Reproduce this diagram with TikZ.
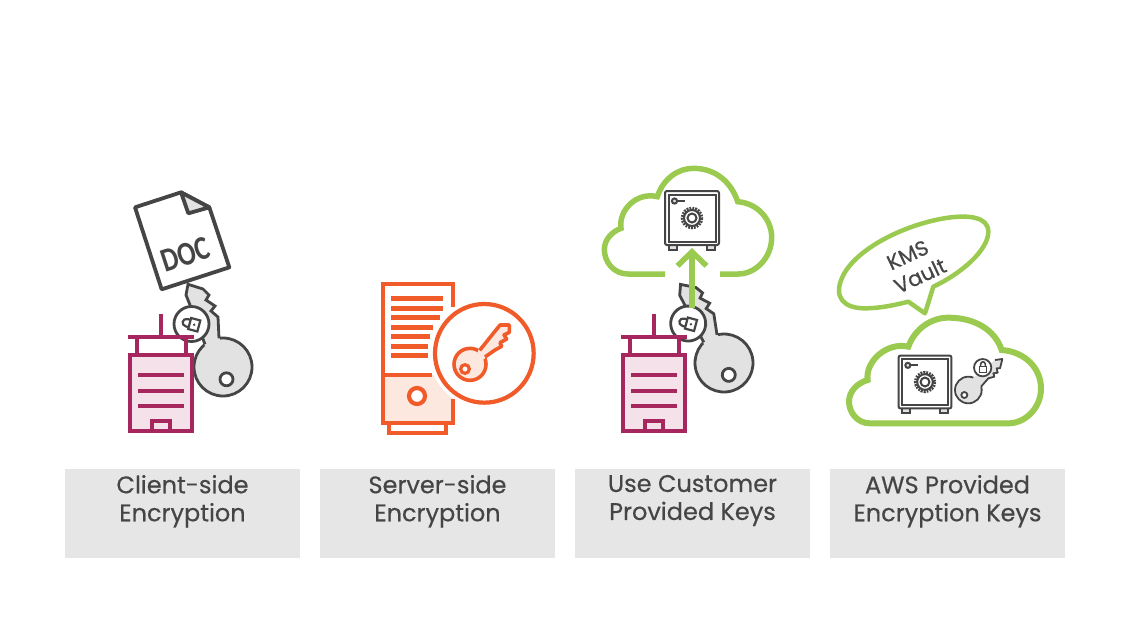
\documentclass[tikz,border=0pt]{standalone}
\usepackage{fontspec}
\setmainfont{Poppins}[FakeBold=0.4]
\newfontfamily\docfont{Carlito}
\usetikzlibrary{arrows.meta}

\definecolor{plum}{HTML}{A6265E}
\definecolor{plumfill}{HTML}{F5E1E9}
\definecolor{rust}{HTML}{F15B2A}
\definecolor{rustfill}{HTML}{FDE8DF}
\definecolor{leaf}{HTML}{9BCA50}
\definecolor{slate}{HTML}{454545}
\definecolor{keygray}{HTML}{E2E2E2}
\definecolor{boxgray}{HTML}{E6E6E6}

\tikzset{
    labelbox/.style={fill=boxgray, minimum width=235pt, minimum height=89pt, inner sep=0pt},
    labeltext/.style={anchor=north, align=center, inner sep=0pt, text=slate, font=\fontsize{24}{28}\selectfont},
    vaulttext/.style={text=slate, inner sep=0pt, font=\fontsize{21}{22}\selectfont},
    plumline/.style={draw=plum, line width=4.6pt},
    rustline/.style={draw=rust, line width=4.2pt},
    rustbar/.style={draw=rust, line width=4.6pt},
    leafline/.style={draw=leaf, line width=5.5pt},
    slateline/.style={draw=slate, line width=2.8pt},
    safeline/.style={draw=slate, line width=2pt},
    pics/tower/.style={code={
        \draw [plumline, fill=plumfill] (-31,-38) rectangle (31,38);
        \draw [plumline] (-33,-56) -- (33,-56);
        \draw [plumline] (0,-79) -- (0,-56);
        \draw [plumline] (-24,-56) -- (-24,-38);
        \draw [plumline] (25,-56) -- (25,-38);
        \draw [plumline] (-23,-18) -- (23,-18);
        \draw [plumline] (-23,-2) -- (23,-2);
        \draw [plumline] (-23,13) -- (23,13);
        \draw [plumline] (-9,38) -- (-9,28) -- (9,28) -- (9,38);
    }},
    pics/padlock/.style={code={
        \draw [slateline, line width=2.2pt, fill=white] (-6,-2) rectangle (6,8);
        \draw [slateline, line width=2.2pt] (-4,-2) -- (-4,-5) .. controls (-4,-11) and (4,-11) .. (4,-5) -- (4,-2);
        \fill [slate] (0,3) circle [radius=1.4];
    }},
    pics/bigkey/.style={code={
        \draw [slateline, fill=keygray] (0,0) circle [radius=29];
        \fill [keygray] (-35,-82.7) -- (-20,-78) -- (-14,-72) -- (-17,-67) -- (-8,-61) -- (-12,-56) -- (-5,-50)
            -- (-3,-27) -- (0,-10) -- (-18,-21) -- (-33,-62) -- (-37,-72) -- cycle;
        \draw [slateline] (-18,-22.7) -- (-33,-62) -- (-37,-72) -- (-35,-82.7) -- (-20,-78) -- (-14,-72)
            -- (-17,-67) -- (-8,-61) -- (-12,-56) -- (-5,-50) -- (-4,-28.7);
        \draw [slateline, fill=white] (3.5,12.3) circle [radius=6.5];
        \draw [slateline, fill=white] (-31.5,-43) circle [radius=17.5];
        \pic [rotate=75, scale=0.95] at (-31.5,-43) {padlock};
    }},
    pics/safebox/.style={code={
        \draw [safeline, fill=keygray] (-23,27) rectangle (-15,32);
        \draw [safeline, fill=keygray] (15,27) rectangle (23,32);
        \draw [safeline, fill=white, rounded corners=2pt] (-27,-27) rectangle (27,27);
        \draw [safeline, fill=white] (-23.5,-23.5) rectangle (23.5,23.5);
        \draw [safeline, line width=3.6pt, dash pattern=on 1.8pt off 1pt] (0,0) circle [radius=9.5];
        \draw [safeline, fill=white] (0,0) circle [radius=8];
        \draw [safeline, fill=white] (0,0) circle [radius=4.5];
        \draw [safeline, fill=keygray] (-17.5,-17) circle [radius=2.6];
        \draw [safeline] (-15,-17) -- (-7,-17);
    }},
}

\begin{document}
\begin{tikzpicture}[x=1pt, y=-1pt]
    \useasboundingbox (0,0) rectangle (1135,638);

    % client-side
    \begin{scope}[shift={(110,180)}, scale=1/3]
        \draw [slate, line width=3.8pt, line join=round, fill=white] (75,82) -- (213,37) -- (298,82) -- (358,262) -- (155,328) -- cycle;
        \draw [slate, line width=3.8pt, line join=round, fill=keygray] (213,37) -- (235,100) -- (298,82) -- cycle;
        \node [rotate=18, xscale=0.9, yscale=1.12, text=slate, inner sep=0pt, font=\docfont\bfseries\fontsize{30}{30}\selectfont] (doctext) at (226,224) {DOC};
    \end{scope}
    \pic at (223,367) {bigkey};
    \pic at (161,393) {tower};

    % server-side
    \begin{scope}[shift={(370,275)}, scale=1/3]
        \fill [rustfill] (38,300) rectangle (248,445);
        \fill [white] (343,235) circle [radius=165];
        \draw [rustline] (248,95) -- (248,28) -- (38,28) -- (38,445) -- (248,445) -- (248,372);
        \draw [rustline] (38,300) -- (185,300);
        \draw [rustline] (57,445) -- (57,473) -- (228,473) -- (228,445);
        \draw [rustbar] (63,71) -- (218,71);
        \draw [rustbar] (63,100) -- (218,100);
        \draw [rustbar] (63,128) -- (210,128);
        \draw [rustbar] (63,157) -- (190,157);
        \draw [rustbar] (63,185) -- (180,185);
        \draw [rustbar] (63,214) -- (175,214);
        \draw [rustbar] (63,242) -- (175,242);
        \draw [rustline, fill=white] (141,363) circle [radius=24];
        \draw [rustline] (343,235) circle [radius=148];
        \draw [rustline, line width=3.6pt, fill=rustfill] (300,268) circle [radius=48];
        \fill [rustfill] (325,225) -- (390,150) -- (418,150) -- (418,170) -- (405,180) -- (410,190) -- (392,205) -- (395,212) -- (375,225) -- (350,245) -- (310,280) -- cycle;
        \draw [rustline, line width=3.6pt, line join=round] (329,226) -- (390,150) -- (418,150) -- (418,172) -- (402,180) -- (410,192) -- (390,203) -- (395,214) -- (375,225) -- (345,246);
        \draw [rustline, line width=3.2pt, fill=white] (285,282) circle [radius=13];
    \end{scope}

    % customer keys
    \begin{scope}[shift={(595,160)}, scale=1/3]
        \draw [leafline] (210,342) -- (100,342) .. controls (55,342) and (28,305) .. (28,268)
            .. controls (28,240) and (50,215) .. (78,205) .. controls (70,150) and (125,95) .. (187,110)
            .. controls (205,55) and (250,25) .. (295,25) .. controls (365,25) and (410,70) .. (428,125)
            .. controls (490,130) and (530,180) .. (530,232) .. controls (530,295) and (480,342) .. (430,342) -- (375,342);
    \end{scope}
    \pic at (692,218) {safebox};
    \pic [rotate=6] at (724,363) {bigkey};
    \coordinate (arrowstart) at (692,308);
    \coordinate (arrowend) at (692,248);
    \draw [leaf, line width=5.5pt, -{Straight Barb[length=14pt, width=29pt, line width=5.5pt]}] (arrowstart) -- (arrowend);
    \pic at (654,393) {tower};

    % aws keys
    \begin{scope}[shift={(825,205)}, scale=1/3]
        \draw [leafline, line width=4.5pt, line join=round] (250,290) -- (300,325) -- (325,245) .. controls (410,205) and (490,135) .. (490,80)
            .. controls (490,35) and (430,30) .. (370,38) .. controls (250,55) and (100,125) .. (55,210)
            .. controls (20,280) and (60,310) .. (120,310) .. controls (165,310) and (210,300) .. (250,290) -- cycle;
        \draw [leafline, line width=6pt] (135,655) .. controls (95,655) and (72,620) .. (72,590)
            .. controls (72,560) and (95,535) .. (128,525) .. controls (120,470) and (185,410) .. (250,425)
            .. controls (270,370) and (320,338) .. (370,338) .. controls (450,338) and (510,375) .. (530,435)
            .. controls (600,440) and (648,490) .. (648,550) .. controls (648,610) and (600,655) .. (550,655) -- cycle;
        \node [vaulttext, rotate=25] (kmstext) at (248,150) {KMS};
        \node [vaulttext, rotate=25] (vaulttext) at (285,212) {Vault};
        \draw [slate, line width=1.8pt, fill=keygray] (430,555) circle [radius=40];
        \fill [keygray] (445,518) -- (510,465) -- (532,462) -- (525,490) -- (515,490) -- (518,503) -- (505,505) -- (508,515) -- (490,520) -- (468,545) -- (430,555) -- cycle;
        \draw [slate, line width=1.8pt, line join=round] (510,465) -- (532,462) -- (525,490) -- (515,490) -- (518,503) -- (505,505) -- (508,515) -- (490,520) -- (468,545);
        \draw [slate, line width=1.8pt, fill=white] (418,570) circle [radius=9];
        \draw [slate, line width=1.8pt, fill=white] (473,488) circle [radius=26];
        \draw [slate, line width=1.6pt, fill=white] (464,485) rectangle (484,502);
        \draw [slate, line width=1.6pt] (467,485) -- (467,478) .. controls (467,468) and (481,468) .. (481,478) -- (481,485);
    \end{scope}
    \pic [scale=0.98] at (925,382) {safebox};

    % labels
    \node [labelbox] (client) at (182.5,513.5) {};
    \node [labelbox] (server) at (437.5,513.5) {};
    \node [labelbox] (customer) at (692.5,513.5) {};
    \node [labelbox] (aws) at (947.5,513.5) {};

    \node [labeltext, yshift=-6pt] (clienttext) at (client.north) {Client-side\\Encryption};
    \node [labeltext, yshift=-6pt] (servertext) at (server.north) {Server-side\\Encryption};
    \node [labeltext, yshift=-6pt] (customertext) at (customer.north) {Use Customer\\Provided Keys};
    \node [labeltext, yshift=-6pt] (awstext) at (aws.north) {AWS Provided\\Encryption Keys};
\end{tikzpicture}
\end{document}
